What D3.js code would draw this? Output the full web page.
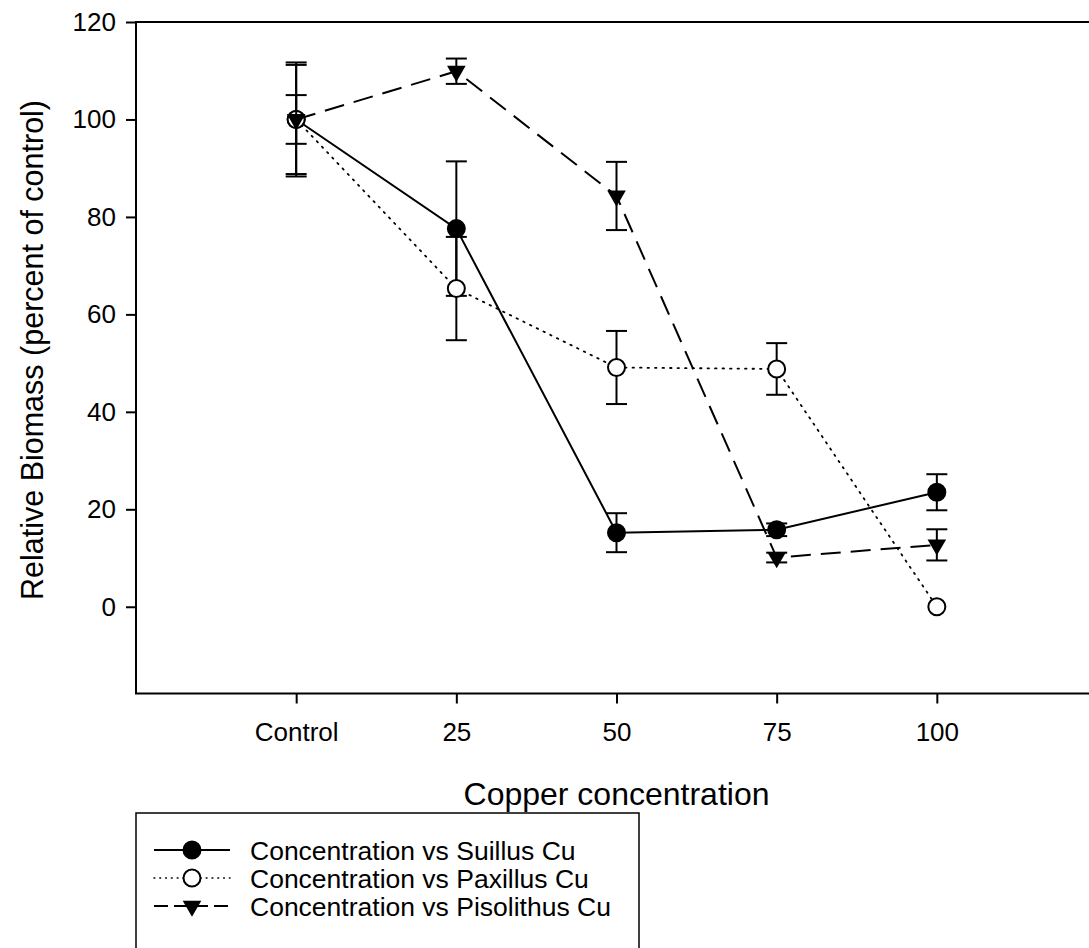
<!DOCTYPE html>
<html lang="en">
<head>
<meta charset="UTF-8">
<title>Relative Biomass vs Copper concentration</title>
<script src="https://d3js.org/d3.v7.min.js"></script>
<style>
  body { margin: 0; background: #fff; }
  svg { display: block; font-family: "Liberation Sans", Arial, sans-serif; }
</style>
</head>
<body>
<svg id="chart" width="1089" height="948"></svg>
<script>
// data
const categories = ["Control", "25", "50", "75", "100"];
const suillus = [100, 77.6, 15.2, 15.8, 23.5];
const suillusErr = [11.2, 13.8, 4.0, 1.3, 3.7];
const paxillus = [100, 65.3, 49.1, 48.8, 0];
const paxillusErr = [11.7, 10.6, 7.5, 5.3, 0];
const pisolithus = [100, 109.9, 84.3, 10.1, 12.7];
const pisolithusErr = [5.0, 2.6, 7.0, 1.0, 3.2];
const yTicks = [0, 20, 40, 60, 80, 100, 120];

const plot = { left: 136, top: 22, right: 1097, bottom: 693.5 };

const svg = d3.select("#chart");

const x = d3.scaleLinear().domain([-1, 5]).range([plot.left, plot.right]);
const y = d3.scaleLinear().domain([-17.8, 120]).range([plot.bottom, plot.top]);

// frame
svg.append("rect")
    .attr("x", plot.left).attr("y", plot.top)
    .attr("width", plot.right - plot.left).attr("height", plot.bottom - plot.top)
    .attr("fill", "none").attr("stroke", "#000").attr("stroke-width", 2);

// axes
const xAxis = d3.axisBottom(x)
    .tickValues(d3.range(categories.length))
    .tickFormat(i => categories[i])
    .tickSize(10).tickSizeOuter(0).tickPadding(19);
svg.append("g")
    .attr("transform", `translate(0,${plot.bottom})`)
    .call(xAxis)
    .call(g => g.select(".domain").remove())
    .call(g => g.selectAll("line").attr("stroke-width", 2))
    .call(g => g.selectAll("text").attr("font-size", 26).attr("font-family", null).attr("fill", "#000"));

const yAxis = d3.axisLeft(y).tickValues(yTicks).tickSize(10).tickSizeOuter(0).tickPadding(10);
svg.append("g")
    .attr("transform", `translate(${plot.left},0)`)
    .call(yAxis)
    .call(g => g.select(".domain").remove())
    .call(g => g.selectAll("line").attr("stroke-width", 2))
    .call(g => g.selectAll("text").attr("font-size", 26).attr("font-family", null).attr("fill", "#000"));

// axis titles
svg.append("text")
    .attr("transform", `translate(43,350) rotate(-90)`)
    .attr("text-anchor", "middle")
    .attr("font-size", 30.5)
    .text("Relative Biomass (percent of control)");

svg.append("text")
    .attr("x", x(2)).attr("y", 805)
    .attr("text-anchor", "middle")
    .attr("font-size", 32)
    .text("Copper concentration");

const series = [
    { name: "Concentration vs Suillus Cu", values: suillus, errs: suillusErr, style: "solid", marker: "fill" },
    { name: "Concentration vs Paxillus Cu", values: paxillus, errs: paxillusErr, style: "dot", marker: "open" },
    { name: "Concentration vs Pisolithus Cu", values: pisolithus, errs: pisolithusErr, style: "dash", marker: "tri" }
];
const dashes = { solid: null, dot: "1.5,6", dash: "20,10" };
const legendDashes = { solid: null, dot: "0.8,5", dash: "14,6" };

const line = d3.line().x((d, i) => x(i)).y(d => y(d));
const triangle = d3.symbol().type(d3.symbolTriangle).size(150);

function drawMarker(g, kind, cx, cy) {
    if (kind === "tri") {
        g.append("path")
            .attr("d", triangle())
            .attr("transform", `translate(${cx},${cy}) rotate(180)`)
            .attr("fill", "#000");
    } else {
        g.append("circle")
            .attr("cx", cx).attr("cy", cy).attr("r", 8.5)
            .attr("fill", kind === "fill" ? "#000" : "#fff")
            .attr("stroke", "#000").attr("stroke-width", 2);
    }
}

series.forEach(s => {
    const g = svg.append("g");
    g.append("path")
        .attr("d", line(s.values))
        .attr("fill", "none")
        .attr("stroke", "#000")
        .attr("stroke-width", s.style === "dot" ? 1.8 : 2)
        .attr("stroke-linecap", s.style === "dot" ? "round" : "butt")
        .attr("stroke-dasharray", dashes[s.style]);

    // error bars
    s.values.forEach((v, i) => {
        const e = s.errs[i];
        if (!e) return;
        const cx = x(i);
        g.append("line")
            .attr("x1", cx).attr("x2", cx)
            .attr("y1", y(v + e)).attr("y2", y(v - e))
            .attr("stroke", "#000").attr("stroke-width", 2);
        [v + e, v - e].forEach(t => {
            g.append("line")
                .attr("x1", cx - 10.5).attr("x2", cx + 10.5)
                .attr("y1", y(t)).attr("y2", y(t))
                .attr("stroke", "#000").attr("stroke-width", 2);
        });
    });

    s.values.forEach((v, i) => drawMarker(g, s.marker, x(i), y(v)));
});

// legend
const legend = svg.append("g");
legend.append("rect")
    .attr("x", 136).attr("y", 813)
    .attr("width", 503).attr("height", 160)
    .attr("fill", "#fff").attr("stroke", "#000").attr("stroke-width", 1.5);

series.forEach((s, i) => {
    const ly = 850 + i * 28;
    legend.append("line")
        .attr("x1", 154).attr("x2", 230)
        .attr("y1", ly).attr("y2", ly)
        .attr("stroke", "#000")
        .attr("stroke-width", s.style === "dot" ? 1.5 : 2)
        .attr("stroke-linecap", s.style === "dot" ? "round" : "butt")
        .attr("stroke-dasharray", legendDashes[s.style]);
    drawMarker(legend, s.marker, 192, ly);
    legend.append("text")
        .attr("x", 250).attr("y", ly + 9.5)
        .attr("font-size", 26.5)
        .text(s.name);
});
</script>
</body>
</html>
